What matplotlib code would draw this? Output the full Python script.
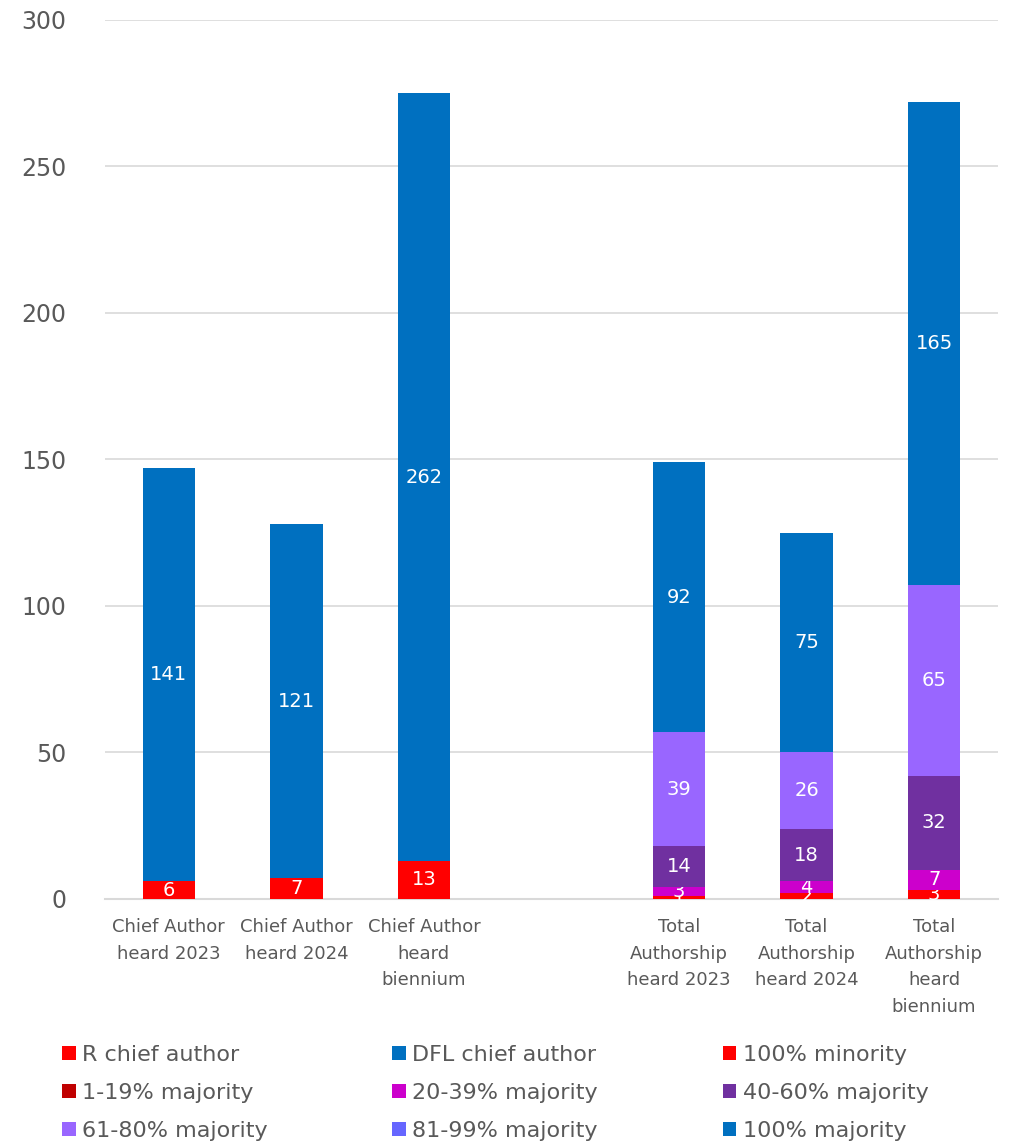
import matplotlib.pyplot as plt
import numpy as np

plt.rcParams['font.family'] = ['DejaVu Sans']

#Categories (blank slot in the middle separates the two groups)
categories = ['Chief Author\nheard 2023', 'Chief Author\nheard 2024', 'Chief Author\nheard\nbiennium', '',
              'Total\nAuthorship\nheard 2023', 'Total\nAuthorship\nheard 2024', 'Total\nAuthorship\nheard\nbiennium']

#Series values, bottom to top
r_chief = [6, 7, 13, 0, 0, 0, 0]
dfl_chief = [141, 121, 262, 0, 0, 0, 0]
minority_100 = [0, 0, 0, 0, 1, 2, 3]
maj_1_19 = [0, 0, 0, 0, 0, 0, 0]
maj_20_39 = [0, 0, 0, 0, 3, 4, 7]
maj_40_60 = [0, 0, 0, 0, 14, 18, 32]
maj_61_80 = [0, 0, 0, 0, 39, 26, 65]
maj_81_99 = [0, 0, 0, 0, 0, 0, 0]
majority_100 = [0, 0, 0, 0, 92, 75, 165]

series = [
    ('R chief author', r_chief, '#FF0000'),
    ('DFL chief author', dfl_chief, '#0070C0'),
    ('100% minority', minority_100, '#FF0000'),
    ('1-19% majority', maj_1_19, '#C00000'),
    ('20-39% majority', maj_20_39, '#CC00CC'),
    ('40-60% majority', maj_40_60, '#7030A0'),
    ('61-80% majority', maj_61_80, '#9966FF'),
    ('81-99% majority', maj_81_99, '#6666FF'),
    ('100% majority', majority_100, '#0070C0'),
]

grey = '#595959'

fig = plt.figure(figsize=(10.1, 11.42), dpi=100)
ax = fig.add_axes([0.104, 0.2128, 0.884, 0.7697])

x = np.arange(len(categories))
bottom = np.zeros(len(categories))
handles = []
for name, vals, col in series:
    vals = np.array(vals, dtype=float)
    bars = ax.bar(x, vals, 0.41, bottom=bottom, color=col, label=name, zorder=3)
    labels = [str(int(v)) if v > 0 else '' for v in vals]
    ax.bar_label(bars, labels=labels, label_type='center', color='white', fontsize=14)
    handles.append(bars)
    bottom += vals

ax.set_ylim(0, 300)
ax.set_xlim(-0.5, len(categories) - 0.5)
ax.set_yticks(np.arange(0, 301, 50))
ax.set_xticks(x)
ax.set_xticklabels(categories, fontsize=13, color=grey, linespacing=1.6, va='top')
ax.tick_params(axis='y', labelsize=17, colors=grey, length=0, pad=28)
ax.tick_params(axis='x', length=0, pad=14)
ax.grid(axis='y', color='#D9D9D9', linewidth=1.2, zorder=0)
for s in ['top', 'right', 'left']:
    ax.spines[s].set_visible(False)
ax.spines['bottom'].set_color('#D9D9D9')
ax.spines['bottom'].set_linewidth(1.5)

#Legend filled row by row: reorder for matplotlib's column-wise fill
order = [0, 3, 6, 1, 4, 7, 2, 5, 8]
leg = fig.legend([handles[i] for i in order], [series[i][0] for i in order],
                 loc='upper left', bbox_to_anchor=(0.053, 0.093), ncol=3, frameon=False,
                 fontsize=16, handlelength=0.6, handleheight=0.6, handletextpad=0.3,
                 columnspacing=5.6, labelspacing=0.82, borderaxespad=0)
for t in leg.get_texts():
    t.set_color(grey)

fig.savefig('out.png', dpi=100)
